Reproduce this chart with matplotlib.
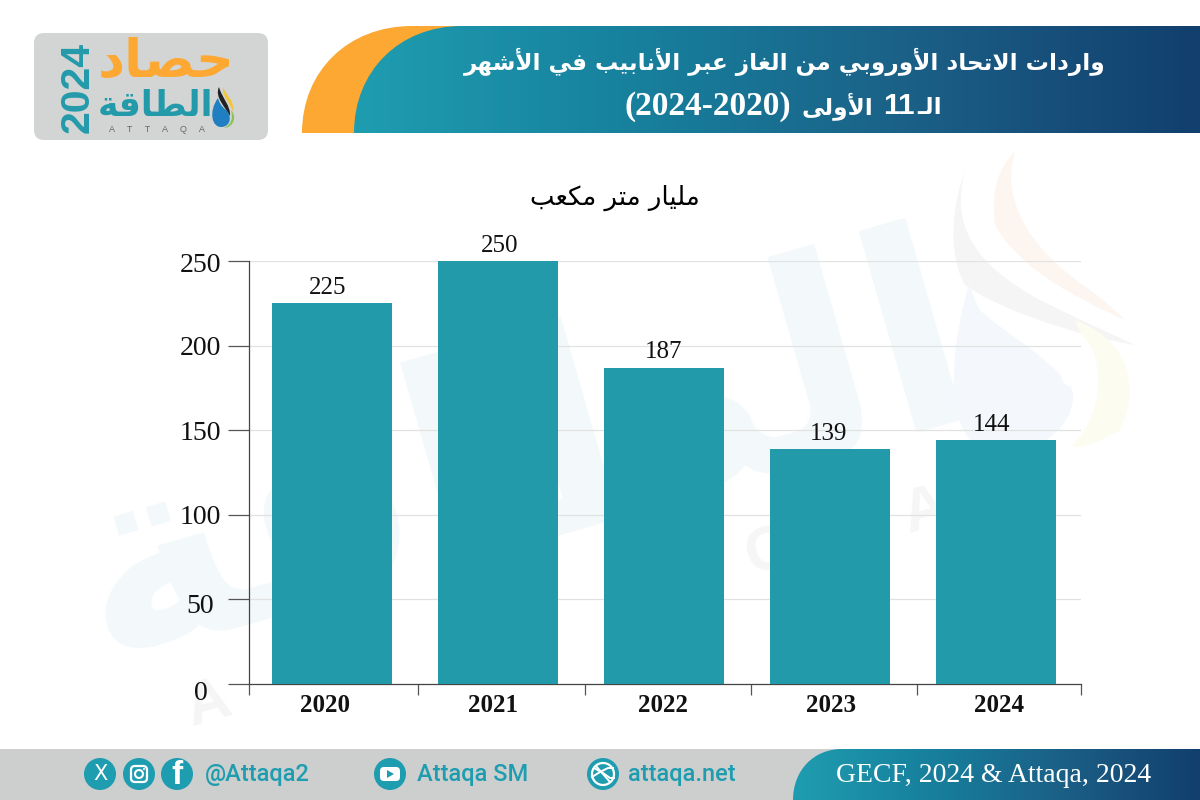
import numpy as np
import matplotlib
matplotlib.use("Agg")
import matplotlib.pyplot as plt
from matplotlib.colors import LinearSegmentedColormap
from matplotlib.patches import PathPatch, FancyBboxPatch, Circle, Rectangle, Polygon, Ellipse
from matplotlib.path import Path
from matplotlib.transforms import ScaledTranslation

# ---------- data ----------
years = ["2020", "2021", "2022", "2023", "2024"]
values = [225, 250, 187, 139, 144]
y_ticks = [0, 50, 100, 150, 200, 250]
title_line1 = "واردات الاتحاد الأوروبي من الغاز عبر الأنابيب في الأشهر"
title_line2_a = "الـ"
title_line2_b = "11"
title_line2_c = "الأولى"
title_line2_d = "(2024-2020)"
unit_label = "مليار متر مكعب"
source_label = "GECF, 2024 & Attaqa, 2024"
logo_top = "حصاد"
logo_mid = "الطاقة"
logo_year = "2024"
logo_latin = "A     T     T     A     Q     A"
social = ["@Attaqa2", "Attaqa SM", "attaqa.net"]

TEAL = "#239aaa"
GRAD = LinearSegmentedColormap.from_list("g", ["#1f9db0", "#17809d", "#1b5f86", "#123f6d"])

# ---------- Arabic shaping (matplotlib has no bidi / joining) ----------
DUAL = {'ب': 0xFE8F, 'ت': 0xFE95, 'ح': 0xFEA1, 'ش': 0xFEB5, 'ص': 0xFEB9, 'ط': 0xFEC1, 'ع': 0xFEC9,
        'غ': 0xFECD, 'ف': 0xFED1, 'ق': 0xFED5, 'ك': 0xFED9, 'ل': 0xFEDD, 'م': 0xFEE1, 'ن': 0xFEE5,
        'ه': 0xFEE9, 'ي': 0xFEF1}
RIGHT = {'ا': 0xFE8D, 'أ': 0xFE83, 'د': 0xFEA9, 'ر': 0xFEAD, 'ز': 0xFEAF, 'و': 0xFEED, 'ى': 0xFEEF,
         'ة': 0xFE93, 'لا': 0xFEFB, 'لأ': 0xFEF7}
KASH = 'ـ'


def shape(text):
    toks, i = [], 0
    while i < len(text):
        if text[i:i + 2] in RIGHT:
            toks.append(text[i:i + 2])
            i += 2
        else:
            toks.append(text[i])
            i += 1

    def jn(t):
        return t in DUAL or t == KASH

    def jp(t):
        return t in DUAL or t in RIGHT or t == KASH

    out = []
    for k, t in enumerate(toks):
        p = k > 0 and jn(toks[k - 1]) and jp(t)
        n = k < len(toks) - 1 and jn(t) and jp(toks[k + 1])
        if t in DUAL:
            out.append(chr(DUAL[t] + (3 if p and n else 2 if n else 1 if p else 0)))
        elif t in RIGHT:
            out.append(chr(RIGHT[t] + (1 if p else 0)))
        else:
            out.append(t)
    return "".join(reversed(out))


# ---------- figure ----------
fig = plt.figure(figsize=(12, 8), dpi=100, facecolor="white")
bg = fig.add_axes([0, 0, 1, 1], zorder=0)
bg.set_xlim(0, 1200)
bg.set_ylim(800, 0)
bg.axis("off")
AR = ["DejaVu Sans"]
SERIF = ["Liberation Serif", "DejaVu Sans"]


def blob(verts, color, z=1, alpha=1.0):
    codes = [Path.MOVETO] + [Path.CURVE4] * (len(verts) - 2) + [Path.CLOSEPOLY]
    p = PathPatch(Path(verts, codes), fc=color, ec="none", zorder=z, alpha=alpha)
    bg.add_patch(p)
    return p


def round_shape(x0, xc, y0, y1, x1, z, color=None, grad_from=None):
    codes = [Path.MOVETO, Path.CURVE4, Path.CURVE4, Path.CURVE4, Path.LINETO, Path.LINETO, Path.CLOSEPOLY]
    verts = [(x0, y1), (x0, y0 + (y1 - y0) * .42), (x0 + (xc - x0) * .42, y0), (xc, y0), (x1, y0), (x1, y1), (x0, y1)]
    patch = PathPatch(Path(verts, codes), fc=color or "none", ec="none", zorder=z)
    bg.add_patch(patch)
    if grad_from is not None:
        im = bg.imshow(np.linspace(0, 1, 512)[None, :], extent=(x0, x1, y1, y0), cmap=GRAD, aspect="auto", zorder=z)
        im.set_clip_path(patch)
    return patch


# ---------- watermark ----------
WM = "#f3f8fa"
bg.text(522, 462, shape(logo_mid), family=AR, weight="bold", fontsize=199, color=WM, rotation=16,
        ha="center", va="center", rotation_mode="anchor", zorder=0.2, clip_on=True)
for (x, y, ch, col) in [(208, 705, "A", "#f5f5f5"), (345, 650, "T", "#f5f7f7"), (490, 620, "T", "#f5f7f7"),
                        (640, 585, "A", "#f6f6f6"), (770, 552, "Q", "#f6f6f6"), (925, 512, "A", "#f6f6f6")]:
    bg.text(x, y, ch, family=["Liberation Sans"], weight="bold", fontsize=44, color=col, rotation=16,
            ha="center", va="center", zorder=0.25)
blob([(965, 172), (950, 225), (975, 265), (1040, 300), (1090, 325), (1125, 340), (1135, 345),
      (1075, 335), (1000, 310), (965, 285), (945, 250), (955, 195), (965, 172)], "#f5f5f5", 0.3)
blob([(1015, 152), (1000, 200), (1030, 250), (1090, 290), (1110, 305), (1120, 315), (1125, 320),
      (1080, 300), (1020, 270), (995, 225), (990, 190), (1000, 165), (1015, 152)], "#fdf6f0", 0.3)
blob([(970, 280), (950, 350), (945, 420), (975, 445), (1045, 470), (1085, 410), (1070, 385),
      (1040, 350), (1000, 330), (980, 310), (970, 290), (970, 285), (970, 280)], "#f4f8fc", 0.3)
blob([(1075, 320), (1140, 345), (1135, 400), (1120, 430), (1095, 445), (1075, 450), (1072, 445),
      (1100, 420), (1105, 370), (1090, 345), (1080, 335), (1077, 325), (1075, 320)], "#fcfcf0", 0.3)
bg.add_patch(Ellipse((1068, 378), 12, 18, angle=-25, fc="white", ec="none", zorder=0.35))
bg.add_patch(Ellipse((1076, 397), 6, 9, fc="white", ec="none", zorder=0.35))

# ---------- header banner ----------
round_shape(302, 412, 26, 133, 520, 1, color="#fda832")
round_shape(354, 462, 26, 133, 1200, 2, grad_from=True)
txt = dict(color="white", va="center", zorder=5)
bg.text(1106, 62, shape(title_line1), family=AR, weight="bold", fontsize=16.7, ha="right", **txt)
bg.text(942, 107, shape(title_line2_a), family=AR, weight="bold", fontsize=16.7, ha="right", **txt)
bg.text(899, 106, title_line2_b, family=["Liberation Sans"], weight="bold", fontsize=21.5, ha="center", **txt)
bg.text(873, 106, shape(title_line2_c), family=AR, weight="bold", fontsize=16.7, ha="right", **txt)
bg.text(708, 106, title_line2_d, family=["Liberation Serif"], weight="bold", fontsize=24, ha="center", **txt)

# ---------- logo ----------
bg.add_patch(FancyBboxPatch((34, 33), 234, 107, boxstyle="round,pad=0,rounding_size=10",
                            fc="#d3d5d4", ec="none", zorder=1))
bg.text(166, 62, shape(logo_top), family=AR, weight="bold", fontsize=38, color="#fda832", ha="center",
        va="center", zorder=3)
bg.text(156, 106, shape(logo_mid), family=AR, weight="bold", fontsize=25, color=TEAL, ha="center",
        va="center", zorder=3)
bg.text(78, 87, logo_year, family=["Liberation Sans"], weight="bold", fontsize=29.5, color=TEAL, rotation=90,
        ha="center", va="center", zorder=3)
bg.text(157, 130, logo_latin, family=["Liberation Sans"], fontsize=6.5, color="#666666", ha="center",
        va="center", zorder=3)
blob([(218, 98), (208, 112), (212, 128), (222, 127), (231, 126), (232, 116), (226, 110), (221, 106),
      (219, 102), (218, 98)], "#1f7fc0", 3)
blob([(219, 87), (214, 97), (226, 108), (230, 116), (231, 106), (222, 98), (219, 87)], "#222222", 4)
blob([(223, 87), (221, 95), (231, 104), (233, 112), (235, 100), (226, 96), (223, 87)], "#f2c53d", 4)
blob([(231, 110), (238, 118), (232, 128), (224, 128), (232, 124), (233, 118), (231, 110)], "#8cc152", 4)

# ---------- footer ----------
bg.add_patch(Rectangle((0, 749), 1200, 51, fc="#cdcfce", ec="none", zorder=1))
round_shape(793, 842, 749, 800, 1200, 2, grad_from=True)
bg.text(994, 775, source_label, family=SERIF, fontsize=20, color="white", ha="center", va="center", zorder=5)
IC = "#1f9db0"
for (t, x) in zip(social, (205, 417, 628)):
    bg.text(x, 775, t, family=["Roboto"], weight="medium", fontsize=17, color=IC, ha="left", va="center", zorder=5)
for cx in (100, 139, 177, 390, 603):
    bg.add_patch(Circle((cx, 774), 16, fc=IC, ec="none", zorder=3))
bg.text(100, 774, "X", family=["DejaVu Sans"], fontsize=15, color="white", ha="center", va="center", zorder=4)
bg.add_patch(FancyBboxPatch((131, 766), 16, 16, boxstyle="round,pad=0,rounding_size=4", fc="none", ec="white", lw=1.6, zorder=4))
bg.add_patch(Circle((139, 774), 4, fc="none", ec="white", lw=1.5, zorder=4))
bg.add_patch(Circle((144, 769), 1, fc="white", ec="none", zorder=4))
bg.text(177, 775, "f", family=["Liberation Sans"], weight="bold", fontsize=24, color="white", ha="center", va="center", zorder=4)
bg.add_patch(FancyBboxPatch((380, 767), 20, 14, boxstyle="round,pad=0,rounding_size=4", fc="white", ec="none", zorder=4))
bg.add_patch(Polygon([(387, 770), (387, 778), (394, 774)], fc=IC, ec="none", zorder=5))
bg.add_patch(Circle((603, 774), 11, fc="none", ec="white", lw=1.6, zorder=4))
bg.plot([596, 610], [766, 782], color="white", lw=1.4, zorder=4)
bg.plot([592, 600, 608, 613], [777, 772, 768, 768], color="white", lw=1.4, zorder=4)
bg.plot([594, 603, 610, 614], [768, 773, 778, 778], color="white", lw=1.4, zorder=4)
bg.set_xlim(0, 1200)
bg.set_ylim(800, 0)

# ---------- unit label ----------
bg.text(615, 198, shape(unit_label), family=AR, fontsize=18.7, color="#000000", ha="center", va="center", zorder=5)

# ---------- chart ----------
ax = fig.add_axes([249 / 1200, (800 - 684) / 800, (1081 - 249) / 1200, (684 - 261) / 800], zorder=2)
ax.patch.set_alpha(0)
n = len(years)
band_px = 832 / n
x = (83 + 166 * np.arange(n)) / band_px
bars = ax.bar(x, values, width=120 / band_px, color=TEAL, zorder=3)
ax.set_xlim(0, n)
ax.set_ylim(0, 250)
ax.set_yticks(y_ticks)
ax.yaxis.grid(True, color="#e2e2e2", lw=0.9, zorder=0)
ax.set_axisbelow(True)
for s in ("top", "right"):
    ax.spines[s].set_visible(False)
for s in ("left", "bottom"):
    ax.spines[s].set_color("#444444")
    ax.spines[s].set_linewidth(0.9)

ax.set_xticks([0, 1.016, 2.02, 3.017, 4.014, 5], labels=[""] * 6)
ax.tick_params(axis="x", which="major", length=8, width=0.9, color="#555555")
year_dx = [-7, -5, -1, 1, 3]  # pixel nudges of the year labels
ax.set_xticks(x + np.array(year_dx) / band_px, minor=True, labels=years)
ax.tick_params(axis="x", which="minor", length=0, pad=7)
for lab in ax.get_xticklabels(minor=True):
    lab.set(family=["Liberation Serif"], weight="bold", fontsize=18, color="#111111")

ax.tick_params(axis="y", length=15, width=0.9, color="#555555", pad=5)
ynudge = {0: (-13, -6), 50: (-7, -4), 250: (0, -2)}
for v, lab in zip(y_ticks, ax.get_yticklabels()):
    lab.set(family=["Liberation Serif"], fontsize=20, color="#111111")
    dx, dy = ynudge.get(v, (0, 0))
    lab.set_transform(lab.get_transform() + ScaledTranslation(dx / 100, dy / 100, fig.dpi_scale_trans))

label_dx = [-3, 1, 0, -1, -3.5]  # point nudges of the value labels
for lab, d in zip(ax.bar_label(bars, labels=[str(v) for v in values], padding=3), label_dx):
    lab.set(family=["Liberation Serif"], fontsize=18, color="#111111", clip_on=False)
    lab.xyann = (d, 3)

fig.savefig("out.png", dpi=100)
